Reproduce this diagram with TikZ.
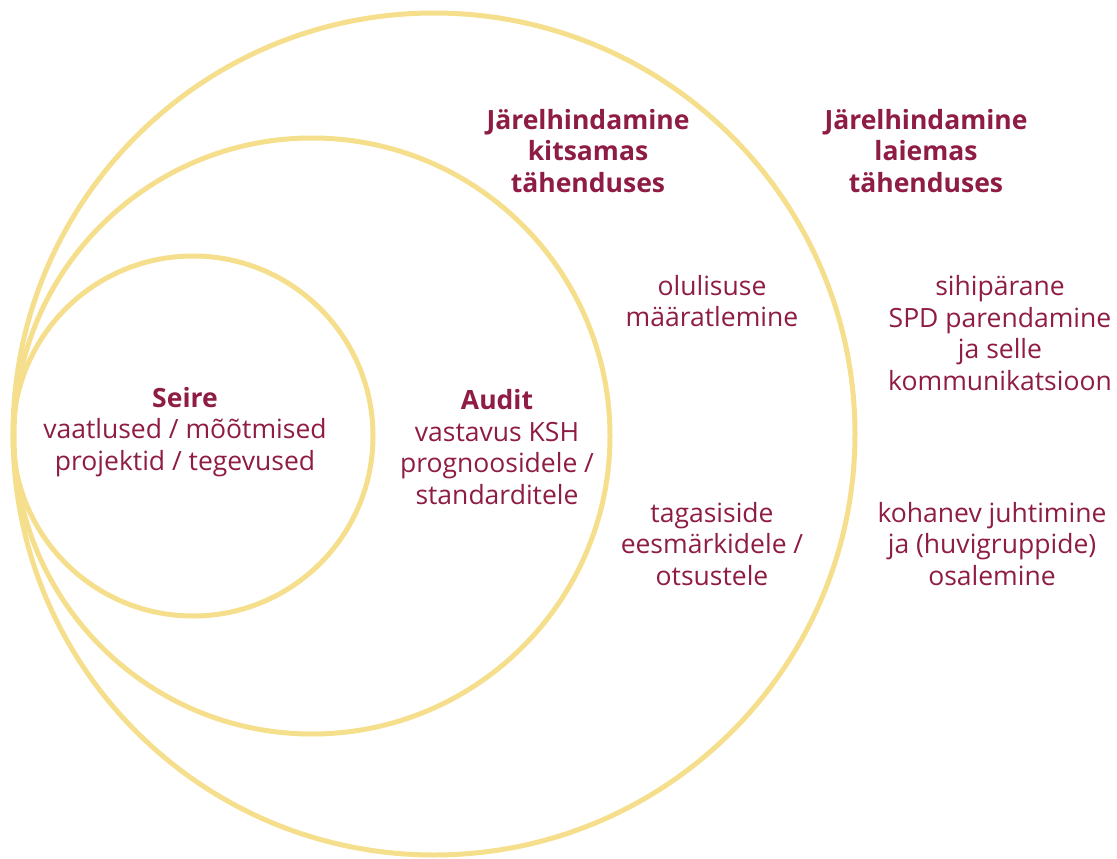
\documentclass[tikz,border=0pt]{standalone}
\usepackage{fontspec}
\setmainfont{Open Sans}
\usepackage{tikz}
\usetikzlibrary{positioning}

\definecolor{ringyellow}{RGB}{245,222,140}
\definecolor{wine}{RGB}{142,28,68}

\begin{document}
\begin{tikzpicture}[x = 1pt, y = -1pt,
  ring/.style = {draw = ringyellow, line width = 5pt},
  label/.style = {text = wine, align = center, inner sep = 0pt, font = \fontsize{26.5}{31.5}\selectfont},
  heading/.style = {label, font = \fontsize{26.5}{31.5}\selectfont\bfseries}]
\useasboundingbox (0,0) rectangle (1117,859);

% rings
\draw[ring] (434,434) circle (421pt);
\draw[ring] (312,436) circle (298pt);
\draw[ring] (193,436) circle (180pt);

% inner texts
\node[label] (seire) at (185,432) {\textbf{Seire}\\vaatlused / mõõtmised\\projektid / tegevused};
\node[label] (audit) at (497,447) {\textbf{Audit}\\vastavus KSH\\prognoosidele /\\standarditele};

% narrow sense
\node[heading] (kitsas) at (588,151) {Järelhindamine\\kitsamas\\tähenduses};
\node[label] (olulisus) at (712,301) {olulisuse\\määratlemine};
\node[label] (tagasiside) at (712,544) {tagasiside\\eesmärkidele /\\otsustele};

% broad sense
\node[heading] (lai) at (926,151) {Järelhindamine\\laiemas\\tähenduses};
\node[label] (sihi) at (1000,333) {sihipärane\\SPD parendamine\\ja selle\\kommunikatsioon};
\node[label] (kohanev) at (992,544) {kohanev juhtimine\\ja (huvigruppide)\\osalemine};
\end{tikzpicture}
\end{document}
